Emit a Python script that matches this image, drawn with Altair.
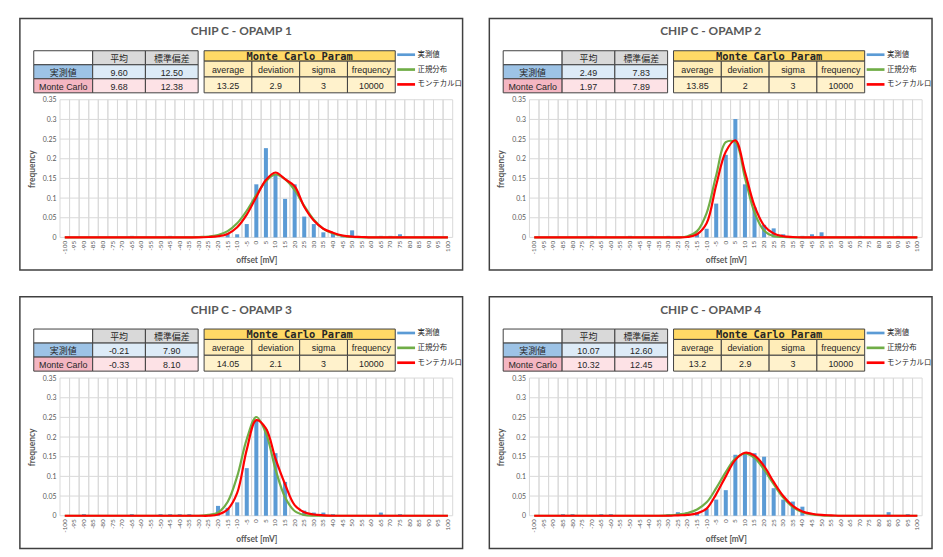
import altair as alt
import pandas as pd

# ---------------- data ----------------
CATEGORIES = ["-100", "-95", "-90", "-85", "-80", "-75", "-70", "-65", "-60", "-55",
              "-50", "-45", "-40", "-35", "-30", "-25", "-20", "-15", "-10", "-5",
              "0", "5", "10", "15", "20", "25", "30", "35", "40", "45",
              "50", "55", "60", "65", "70", "75", "80", "85", "90", "95", "100"]

TITLES = ["CHIP C - OPAMP 1", "CHIP C - OPAMP 2", "CHIP C - OPAMP 3", "CHIP C - OPAMP 4"]

ROW_LABELS = ["実測値", "Monte Carlo"]
STAT_HEADERS = ["平均", "標準偏差"]
MEASURED_MEAN = ["9.60", "2.49", "-0.21", "10.07"]
MEASURED_SD = ["12.50", "7.83", "7.90", "12.60"]
MC_MEAN = ["9.68", "1.97", "-0.33", "10.32"]
MC_SD = ["12.38", "7.89", "8.10", "12.45"]

MC_TITLE = "Monte Carlo Param"
MC_HEADERS = ["average", "deviation", "sigma", "frequency"]
MC_AVERAGE = ["13.25", "13.85", "14.05", "13.2"]
MC_DEVIATION = ["2.9", "2", "2.1", "2.9"]
MC_SIGMA = ["3", "3", "3", "3"]
MC_FREQUENCY = ["10000", "10000", "10000", "10000"]

SERIES = ["実測値", "正規分布", "モンテカルロ"]
SERIES_COLORS = ["#5b9bd5", "#70ad47", "#ff0000"]
Y_TICKS = [0, 0.05, 0.1, 0.15, 0.2, 0.25, 0.3, 0.35]

MEASURED_1 = [0, 0, 0, 0, 0, 0, 0, 0.004, 0, 0, 0, 0.004, 0, 0, 0, 0, 0, 0.01, 0.008, 0.034,
              0.135, 0.227, 0.16, 0.098, 0.135, 0.053, 0.034, 0.013, 0.011, 0.004,
              0.018, 0, 0, 0.004, 0.004, 0.008, 0, 0, 0, 0, 0]
NORMAL_1 = [0, 0, 0, 0, 0, 0, 0, 0, 0, 0, 0, 0, 0, 0, 0.001, 0.002, 0.006, 0.016, 0.036, 0.068,
            0.108, 0.143, 0.16, 0.148, 0.12, 0.08, 0.045, 0.022, 0.01, 0.004,
            0.001, 0, 0, 0, 0, 0, 0, 0, 0, 0, 0]
MONTE_1 = [0, 0, 0, 0, 0, 0, 0, 0, 0, 0, 0, 0, 0, 0, 0, 0.001, 0.003, 0.009, 0.026, 0.058,
           0.103, 0.146, 0.165, 0.148, 0.13, 0.078, 0.043, 0.022, 0.012, 0.005,
           0.002, 0.001, 0, 0, 0, 0, 0, 0, 0, 0, 0]

MEASURED_2 = [0, 0, 0, 0, 0, 0, 0.004, 0, 0, 0, 0.004, 0, 0, 0, 0.004, 0, 0, 0.01, 0.022, 0.086,
              0.21, 0.301, 0.135, 0.076, 0.032, 0.023, 0.008, 0, 0.004, 0.008,
              0.013, 0, 0, 0, 0.004, 0, 0, 0, 0.004, 0, 0]
NORMAL_2 = [0, 0, 0, 0, 0, 0, 0, 0, 0, 0, 0, 0, 0, 0, 0, 0, 0.003, 0.016, 0.062, 0.158,
            0.242, 0.242, 0.152, 0.063, 0.017, 0.003, 0.001, 0, 0, 0,
            0, 0, 0, 0, 0, 0, 0, 0, 0, 0, 0]
MONTE_2 = [0, 0, 0, 0, 0, 0, 0, 0, 0, 0, 0, 0, 0, 0, 0, 0, 0.001, 0.008, 0.036, 0.133,
           0.218, 0.247, 0.167, 0.08, 0.03, 0.01, 0.003, 0.001, 0, 0,
           0, 0, 0, 0, 0, 0, 0, 0, 0, 0, 0]

MEASURED_3 = [0, 0, 0.004, 0, 0, 0, 0, 0.004, 0, 0, 0.004, 0.004, 0.004, 0.004, 0, 0, 0.025, 0.02, 0.034, 0.121,
              0.241, 0.22, 0.159, 0.086, 0, 0.013, 0.008, 0.008, 0.004, 0,
              0, 0, 0, 0.008, 0, 0.004, 0, 0, 0, 0, 0]
NORMAL_3 = [0, 0, 0, 0, 0, 0, 0, 0, 0, 0, 0, 0, 0, 0, 0, 0.002, 0.008, 0.035, 0.1, 0.195,
            0.251, 0.21, 0.118, 0.047, 0.012, 0.002, 0, 0, 0, 0,
            0, 0, 0, 0, 0, 0, 0, 0, 0, 0, 0]
MONTE_3 = [0, 0, 0, 0, 0, 0, 0, 0, 0, 0, 0, 0, 0, 0, 0, 0, 0.003, 0.016, 0.058, 0.168,
           0.243, 0.222, 0.145, 0.08, 0.027, 0.009, 0.003, 0.001, 0, 0,
           0, 0, 0, 0, 0, 0, 0, 0, 0, 0, 0]

MEASURED_4 = [0, 0, 0, 0.004, 0.004, 0, 0, 0.004, 0.004, 0, 0, 0, 0, 0, 0.004, 0.009, 0.009, 0.009, 0.018, 0.041,
              0.065, 0.155, 0.159, 0.159, 0.15, 0.07, 0.041, 0.036, 0.023, 0,
              0, 0, 0, 0, 0, 0, 0, 0.009, 0, 0.004, 0]
NORMAL_4 = [0, 0, 0, 0, 0, 0, 0, 0, 0, 0, 0, 0, 0, 0, 0.001, 0.003, 0.007, 0.016, 0.034, 0.07,
            0.111, 0.145, 0.158, 0.147, 0.117, 0.08, 0.046, 0.022, 0.009, 0.003,
            0.001, 0, 0, 0, 0, 0, 0, 0, 0, 0, 0]
MONTE_4 = [0, 0, 0, 0, 0, 0, 0, 0, 0, 0, 0, 0, 0, 0, 0, 0.001, 0.002, 0.006, 0.018, 0.055,
           0.1, 0.142, 0.16, 0.153, 0.126, 0.086, 0.05, 0.025, 0.011, 0.005,
           0.002, 0.001, 0, 0, 0, 0, 0, 0, 0, 0, 0]

MEASURED = [MEASURED_1, MEASURED_2, MEASURED_3, MEASURED_4]
NORMAL = [NORMAL_1, NORMAL_2, NORMAL_3, NORMAL_4]
MONTE = [MONTE_1, MONTE_2, MONTE_3, MONTE_4]

# ---------------- layout / style (pixels inside one panel) ----------------
W, H = 447, 254
PLOT_X = [40.5, 437]
PLOT_Y = [221, 82]
T1_LABEL_X = [14, 73.5]
T1_VALUE_X = [73.5, 180]
T1_Y = [32.5, 75]
MC_X = [186, 379]
MC_HEAD_Y = [32.5, 43]
MC_BODY_Y = [43, 75]

BORDER = "#404040"
GRID = "#d9d9d9"
TEXT = "#262626"
AXIS_TEXT = "#595959"
TITLE_FONT = "Lato"
TABLE_FONT = "Arial, 'Liberation Sans', 'Noto Sans CJK JP'"
CJK_FONT = "'Noto Sans CJK JP'"
HEAD_FONT = "'DejaVu Sans Mono'"


def band(domain, rng):
    return alt.Scale(type="band", domain=domain, range=rng, paddingInner=0, paddingOuter=0)


def cells(df, xscale, yscale, font_size=9, weight="normal", font=TABLE_FONT):
    base = alt.Chart(df).encode(
        x=alt.X("col:N", scale=xscale, axis=None),
        y=alt.Y("row:N", scale=yscale, axis=None),
    )
    rect = base.mark_rect(stroke=BORDER, strokeWidth=1).encode(
        color=alt.Color("fill:N", scale=None)
    )
    txt = base.mark_text(font=font, fontSize=font_size, fontWeight=weight,
                         color=TEXT, baseline="middle", dy=1).encode(text="text:N")
    return alt.layer(rect, txt)


def panel(k):
    # ---- statistics table ----
    lab_df = pd.DataFrame({
        "row": ["r0", "r1", "r2"], "col": ["c0"] * 3,
        "text": [""] + ROW_LABELS,
        "fill": ["#ffffff", "#9dc3e6", "#f4b6c2"],
    })
    val_df = pd.DataFrame({
        "row": ["r0", "r0", "r1", "r1", "r2", "r2"],
        "col": ["c1", "c2"] * 3,
        "text": STAT_HEADERS + [MEASURED_MEAN[k], MEASURED_SD[k], MC_MEAN[k], MC_SD[k]],
        "fill": ["#d9d9d9", "#d9d9d9", "#ddebf7", "#ddebf7", "#fde2e6", "#fde2e6"],
    })
    rows = ["r0", "r1", "r2"]
    t_lab = cells(lab_df, band(["c0"], T1_LABEL_X), band(rows, T1_Y))
    t_val = cells(val_df, band(["c1", "c2"], T1_VALUE_X), band(rows, T1_Y))

    # ---- Monte Carlo parameter table ----
    head_df = pd.DataFrame({"row": ["h"], "col": ["h"], "text": [MC_TITLE], "fill": ["#ffd966"]})
    body_df = pd.DataFrame({
        "row": ["b0"] * 4 + ["b1"] * 4,
        "col": MC_HEADERS * 2,
        "text": MC_HEADERS + [MC_AVERAGE[k], MC_DEVIATION[k], MC_SIGMA[k], MC_FREQUENCY[k]],
        "fill": ["#ffedb8"] * 4 + ["#fff2cc"] * 4,
    })
    t_head = cells(head_df, band(["h"], MC_X), band(["h"], MC_HEAD_Y),
                   font_size=10.5, weight="bold", font=HEAD_FONT)
    t_body = cells(body_df, band(MC_HEADERS, MC_X), band(["b0", "b1"], MC_BODY_Y))

    # ---- histogram ----
    xscale = alt.Scale(type="band", domain=CATEGORIES, range=PLOT_X, paddingInner=0, paddingOuter=0)
    yscale = alt.Scale(domain=[0, 0.35], range=PLOT_Y, nice=False, zero=True)
    xaxis = alt.Axis(orient="bottom", offset=-(H - PLOT_Y[0]), labelAngle=-90, labelFontSize=6.5,
                     labelColor=AXIS_TEXT, labelFont=TITLE_FONT, labelPadding=3,
                     title="offset [mV]", titleFont=TITLE_FONT, titleFontSize=8.5,
                     titleFontWeight="bold", titleColor=AXIS_TEXT, titlePadding=2,
                     grid=False, domain=False, ticks=False)
    yaxis = alt.Axis(orient="left", offset=-PLOT_X[0], values=Y_TICKS, format="~g",
                     labelFontSize=7, labelColor=AXIS_TEXT, labelFont=TITLE_FONT, labelPadding=4,
                     title="frequency", titleFont=TITLE_FONT, titleFontSize=8.5,
                     titleFontWeight="bold", titleColor=AXIS_TEXT, titlePadding=6,
                     grid=False, domain=False, ticks=False)
    cscale = alt.Scale(domain=SERIES, range=SERIES_COLORS)
    legend = alt.Legend(title=None, orient="none", legendX=385.5, legendY=32,
                        symbolType="M-2,-0.3H2V0.3H-2Z", symbolSize=81,
                        symbolStrokeWidth=0, labelFont=CJK_FONT, labelFontSize=7.5,
                        labelColor=TEXT, rowPadding=7, labelOffset=7)

    cat_df = pd.DataFrame({"cat": CATEGORIES})
    tick_df = pd.DataFrame({"v": Y_TICKS})
    bar_df = pd.DataFrame({"cat": CATEGORIES, "freq": MEASURED[k], "series": SERIES[0]})
    nrm_df = pd.DataFrame({"cat": CATEGORIES, "freq": NORMAL[k], "series": SERIES[1]})
    mc_df = pd.DataFrame({"cat": CATEGORIES, "freq": MONTE[k], "series": SERIES[2]})

    grid_v = [
        alt.Chart(cat_df).mark_rule(color=GRID, strokeWidth=1).encode(
            x=alt.X("cat:O", scale=xscale, axis=xaxis, bandPosition=bp),
            y=alt.Y(datum=0, scale=yscale, axis=yaxis),
            y2=alt.Y2(datum=0.35),
        )
        for bp in (0, 1)
    ]
    grid_h = alt.Chart(tick_df).mark_rule(color=GRID, strokeWidth=1).encode(
        y=alt.Y("v:Q", scale=yscale, axis=yaxis),
        x=alt.value(PLOT_X[0]), x2=alt.value(PLOT_X[1]),
    )
    bars = alt.Chart(bar_df).mark_bar(width={"band": 0.42}).encode(
        x=alt.X("cat:O", scale=xscale, axis=xaxis),
        y=alt.Y("freq:Q", scale=yscale, axis=yaxis),
        color=alt.Color("series:N", scale=cscale, legend=legend),
    )

    def curve(df):
        return alt.Chart(df).mark_line(strokeWidth=2.2, interpolate="catmull-rom").encode(
            x=alt.X("cat:O", scale=xscale, axis=xaxis),
            y=alt.Y("freq:Q", scale=yscale, axis=yaxis),
            color=alt.Color("series:N", scale=cscale, legend=legend),
        )

    hist = alt.layer(*grid_v, grid_h, bars, curve(nrm_df), curve(mc_df))

    return alt.layer(t_lab, t_val, t_head, t_body, hist).resolve_scale(
        x="independent", y="independent"
    ).properties(
        width=W, height=H,
        title=alt.TitleParams(TITLES[k], anchor="middle", offset=-20, font=TITLE_FONT,
                              fontSize=12, fontWeight="bold", color=AXIS_TEXT),
    )


top = alt.hconcat(panel(0), panel(1), spacing=25).resolve_scale(color="independent")
bottom = alt.hconcat(panel(2), panel(3), spacing=25).resolve_scale(color="independent")

chart = alt.vconcat(top, bottom, spacing=25).resolve_scale(
    color="independent"
).properties(
    padding={"left": 11, "top": 7, "right": 2, "bottom": 2},
    background="white",
).configure_view(stroke=BORDER, strokeWidth=1.5, fill="white")

chart.save("out.html", embed_options={"renderer": "svg", "actions": False})
